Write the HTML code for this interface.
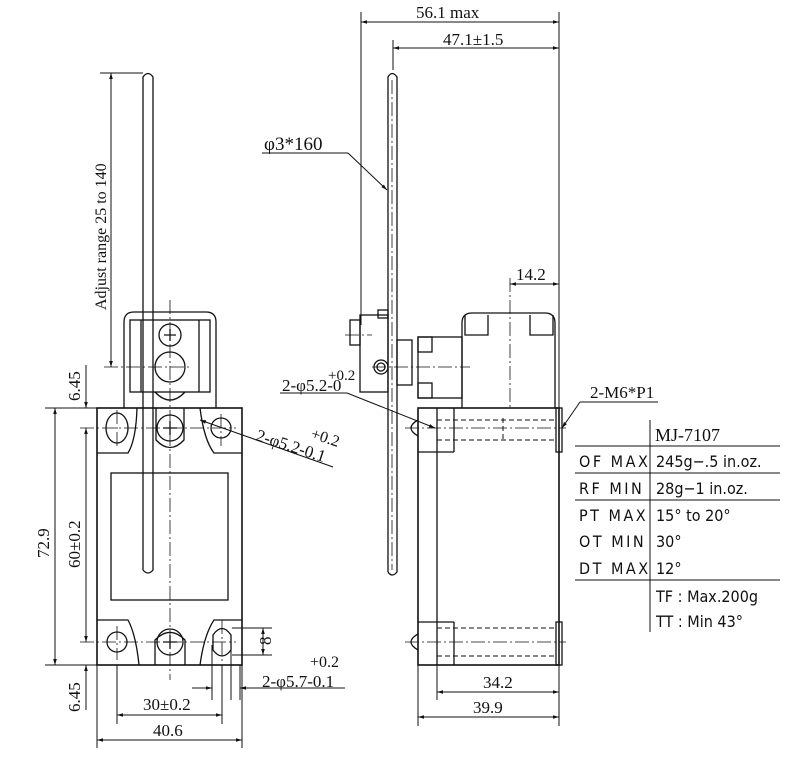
<!DOCTYPE html>
<html><head><meta charset="utf-8"><style>
html,body{margin:0;padding:0;background:#fff;}
svg{display:block;}
text{font-family:"Liberation Serif",serif;fill:#111;}
.t{font-family:"DejaVu Sans Condensed","DejaVu Sans",sans-serif;font-size:16px;}
.l{letter-spacing:2.5px;}
</style></head><body>
<svg width="800" height="771" viewBox="0 0 800 771" xmlns="http://www.w3.org/2000/svg">
<defs>
<marker id="a" viewBox="0 0 10 10" refX="10" refY="5" markerWidth="9" markerHeight="6" orient="auto-start-reverse" markerUnits="userSpaceOnUse"><path d="M0,2 L10,5 L0,8 z" fill="#111"/></marker>
</defs>
<g fill="none" stroke="#111" stroke-width="1.3">
<path d="M143,570 L143,77 Q148,70 153,77 L153,570 Q148,576 143,570"/>
<path d="M124,408 L124,322 Q124,312 134,312 L206,312 Q216,312 216,322 L216,408"/>
<rect x="130" y="320" width="80" height="72"/>
<line x1="141" y1="320" x2="141" y2="392"/><line x1="199" y1="320" x2="199" y2="392"/>
<circle cx="170" cy="335" r="11"/><circle cx="170" cy="367" r="15"/>
<path d="M155,392 Q170,408 185,392"/>
<rect x="97" y="408" width="145" height="257" stroke-width="1.6"/>
<rect x="111" y="473" width="117" height="127"/>
<path d="M97,453 L128,453 Q136,440 137,408"/>
<path d="M156,408 L156,440 Q170,455 184,440 L184,408"/>
<path d="M200,408 Q204,440 214,453 L242,453"/>
<path d="M97,620 L128,620 Q136,635 139,665"/>
<path d="M155,665 L155,640 Q170,625 185,640 L185,665"/>
<path d="M200,665 Q204,635 214,620 L242,620"/>
<ellipse cx="117" cy="428" rx="11" ry="15"/>
<circle cx="170" cy="428" r="13"/><circle cx="221" cy="428" r="10"/>
<circle cx="117" cy="642" r="10"/><circle cx="170" cy="642" r="13"/>
<path d="M213,635 Q222,622 231,635 L231,650 Q222,662 213,650 z"/>
<path d="M163,428 h14 M170,421 v14 M163,642 h14 M170,635 v14 M164,335 h12 M170,329 v12"/>
</g>
<g stroke="#111" stroke-width="0.8" fill="none" stroke-dasharray="14,3,2,3">
<line x1="170" y1="300" x2="170" y2="680"/>
<line x1="104" y1="367" x2="190" y2="367"/>
<line x1="80" y1="428" x2="236" y2="428"/>
<line x1="80" y1="642" x2="236" y2="642"/>
<line x1="117" y1="410" x2="117" y2="446"/><line x1="221" y1="414" x2="221" y2="446"/>
<line x1="117" y1="626" x2="117" y2="660"/><line x1="222" y1="620" x2="222" y2="664"/>
</g>
<g stroke="#111" stroke-width="1" fill="none">
<line x1="45" y1="408" x2="97" y2="408"/><line x1="45" y1="665" x2="97" y2="665"/>
<line x1="55" y1="408" x2="55" y2="665" marker-start="url(#a)" marker-end="url(#a)"/>
<line x1="86" y1="365" x2="86" y2="408" marker-end="url(#a)"/>
<line x1="86" y1="428" x2="86" y2="642" marker-start="url(#a)" marker-end="url(#a)"/>
<line x1="86" y1="665" x2="86" y2="710" marker-start="url(#a)"/>
<line x1="100" y1="73" x2="143" y2="73"/>
<line x1="111" y1="73" x2="111" y2="367" marker-start="url(#a)" marker-end="url(#a)"/>
<line x1="97" y1="665" x2="97" y2="748"/><line x1="242" y1="665" x2="242" y2="748"/>
<line x1="117" y1="665" x2="117" y2="724"/><line x1="222" y1="665" x2="222" y2="724"/>
<line x1="97" y1="740" x2="242" y2="740" marker-start="url(#a)" marker-end="url(#a)"/>
<line x1="117" y1="715" x2="222" y2="715" marker-start="url(#a)" marker-end="url(#a)"/>
<line x1="212" y1="645" x2="212" y2="700"/><line x1="231" y1="645" x2="231" y2="700"/><line x1="240" y1="665" x2="240" y2="700"/>
<line x1="192" y1="688" x2="212" y2="688" marker-end="url(#a)"/>
<line x1="345" y1="688" x2="240" y2="688" marker-end="url(#a)"/>
<line x1="232" y1="628" x2="272" y2="628"/><line x1="232" y1="655" x2="272" y2="655"/>
<line x1="263" y1="628" x2="263" y2="655" marker-start="url(#a)" marker-end="url(#a)"/>
<line x1="333" y1="467" x2="200" y2="420" marker-end="url(#a)"/>
</g>
<text x="0" y="0" font-size="17" transform="translate(49,558) rotate(-90)">72.9</text>
<text x="0" y="0" font-size="17" transform="translate(80,568) rotate(-90)">60±0.2</text>
<text x="0" y="0" font-size="17" transform="translate(80,401) rotate(-90)">6.45</text>
<text x="0" y="0" font-size="17" transform="translate(80,712) rotate(-90)">6.45</text>
<text x="0" y="0" font-size="16" transform="translate(106,310) rotate(-90)">Adjust  range  25 to 140</text>
<text x="0" y="0" font-size="17" transform="translate(271,645) rotate(-90)">8</text>
<text x="143" y="710" font-size="17">30±0.2</text>
<text x="153" y="736" font-size="17">40.6</text>
<text x="310" y="667" font-size="16">+0.2</text>
<text x="262" y="687" font-size="17">2-φ5.7-0.1</text>
<text x="0" y="0" font-size="17" transform="translate(255,440) rotate(18)">2-φ5.2-0.1</text>
<text x="0" y="0" font-size="16" transform="translate(310,438) rotate(18)">+0.2</text>

<g fill="none" stroke="#111" stroke-width="1.3">
<path d="M388,572 L388,77 Q392,70 397,77 L397,572 Q392,578 388,572"/>
<rect x="360" y="315" width="28" height="77"/>
<rect x="397" y="340" width="15" height="45"/>
<rect x="350" y="320" width="10" height="25"/>
<rect x="378" y="310" width="10" height="8"/>
<circle cx="381" cy="367" r="7"/><circle cx="381" cy="367" r="4"/>
<rect x="418" y="337" width="44" height="61"/>
<rect x="418" y="337" width="14" height="15"/><rect x="418" y="383" width="14" height="15"/>
<path d="M462,408 L462,323 Q462,313 472,313 L545,313 Q555,313 555,323 L555,408"/>
<path d="M465,315 v20 h23 v-20 M530,315 v20 h23 v-20"/>
<rect x="418" y="408" width="141" height="257" stroke-width="1.6"/>
<line x1="437" y1="408" x2="437" y2="665"/>
<line x1="454" y1="408" x2="454" y2="452"/><line x1="437" y1="452" x2="454" y2="452"/>
<line x1="454" y1="622" x2="454" y2="665"/><line x1="437" y1="622" x2="454" y2="622"/>
<line x1="418" y1="452" x2="437" y2="452"/><line x1="418" y1="622" x2="437" y2="622"/>
<rect x="556" y="408" width="6" height="44"/><rect x="556" y="622" width="6" height="43"/>
<path d="M418,420 Q404,428 418,436"/><path d="M418,634 Q404,642 418,650"/>
</g>
<g stroke="#111" stroke-width="1" fill="none" stroke-dasharray="5,3">
<line x1="437" y1="420" x2="556" y2="420"/><line x1="437" y1="440" x2="556" y2="440"/>
<line x1="437" y1="628" x2="556" y2="628"/><line x1="437" y1="656" x2="556" y2="656"/>
<line x1="503" y1="418" x2="503" y2="442"/>
</g>
<g stroke="#111" stroke-width="0.8" fill="none" stroke-dasharray="14,3,2,3">
<line x1="405" y1="428" x2="566" y2="428"/><line x1="405" y1="642" x2="566" y2="642"/>
<line x1="510" y1="278" x2="510" y2="410"/>
<line x1="345" y1="335" x2="372" y2="335"/><line x1="372" y1="367" x2="470" y2="367"/>
<line x1="392" y1="80" x2="392" y2="570"/>
</g>
<g stroke="#111" stroke-width="1" fill="none">
<line x1="361" y1="12" x2="361" y2="325"/><line x1="559" y1="12" x2="559" y2="408"/>
<line x1="393" y1="40" x2="393" y2="70"/>
<line x1="361" y1="22" x2="559" y2="22" marker-start="url(#a)" marker-end="url(#a)"/>
<line x1="393" y1="48" x2="559" y2="48" marker-start="url(#a)" marker-end="url(#a)"/>
<line x1="510" y1="284" x2="559" y2="284" marker-start="url(#a)" marker-end="url(#a)"/>
<line x1="262" y1="153" x2="348" y2="153"/>
<line x1="348" y1="153" x2="387" y2="190" marker-end="url(#a)"/>
<line x1="280" y1="393" x2="347" y2="393"/>
<line x1="347" y1="393" x2="435" y2="428" marker-end="url(#a)"/>
<line x1="580" y1="402" x2="658" y2="402"/>
<line x1="580" y1="402" x2="562" y2="428" marker-end="url(#a)"/>
<line x1="418" y1="665" x2="418" y2="726"/><line x1="437" y1="665" x2="437" y2="700"/><line x1="559" y1="665" x2="559" y2="726"/>
<line x1="437" y1="692" x2="559" y2="692" marker-start="url(#a)" marker-end="url(#a)"/>
<line x1="418" y1="717" x2="559" y2="717" marker-start="url(#a)" marker-end="url(#a)"/>
<line x1="650" y1="420" x2="650" y2="632"/>
<line x1="575" y1="446" x2="780" y2="446"/><line x1="575" y1="473" x2="780" y2="473"/>
<line x1="575" y1="500" x2="780" y2="500"/><line x1="575" y1="580" x2="780" y2="580"/>
</g>
<text x="416" y="18" font-size="17">56.1    max</text>
<text x="443" y="45" font-size="17">47.1±1.5</text>
<text x="264" y="150" font-size="19">φ3*160</text>
<text x="516" y="280" font-size="17">14.2</text>
<text x="282" y="391" font-size="17">2-φ5.2-0</text>
<text x="328" y="380" font-size="15">+0.2</text>
<text x="590" y="398" font-size="17">2-M6*P1</text>
<text x="483" y="688" font-size="17">34.2</text>
<text x="473" y="713" font-size="17">39.9</text>
<text x="655" y="441" font-size="18">MJ-7107</text>
<text class="t l" x="579" y="467">OF MAX</text><text class="t" x="656" y="467">245g−.5 in.oz.</text>
<text class="t l" x="579" y="494">RF MIN</text><text class="t" x="656" y="494">28g−1 in.oz.</text>
<text class="t l" x="579" y="521">PT MAX</text><text class="t" x="656" y="521">15° to 20°</text>
<text class="t l" x="579" y="547">OT MIN</text><text class="t" x="656" y="547">30°</text>
<text class="t l" x="579" y="574">DT MAX</text><text class="t" x="656" y="574">12°</text>
<text class="t" x="656" y="602">TF : Max.200g</text>
<text class="t" x="656" y="627">TT : Min 43°</text>
</svg>
</body></html>
